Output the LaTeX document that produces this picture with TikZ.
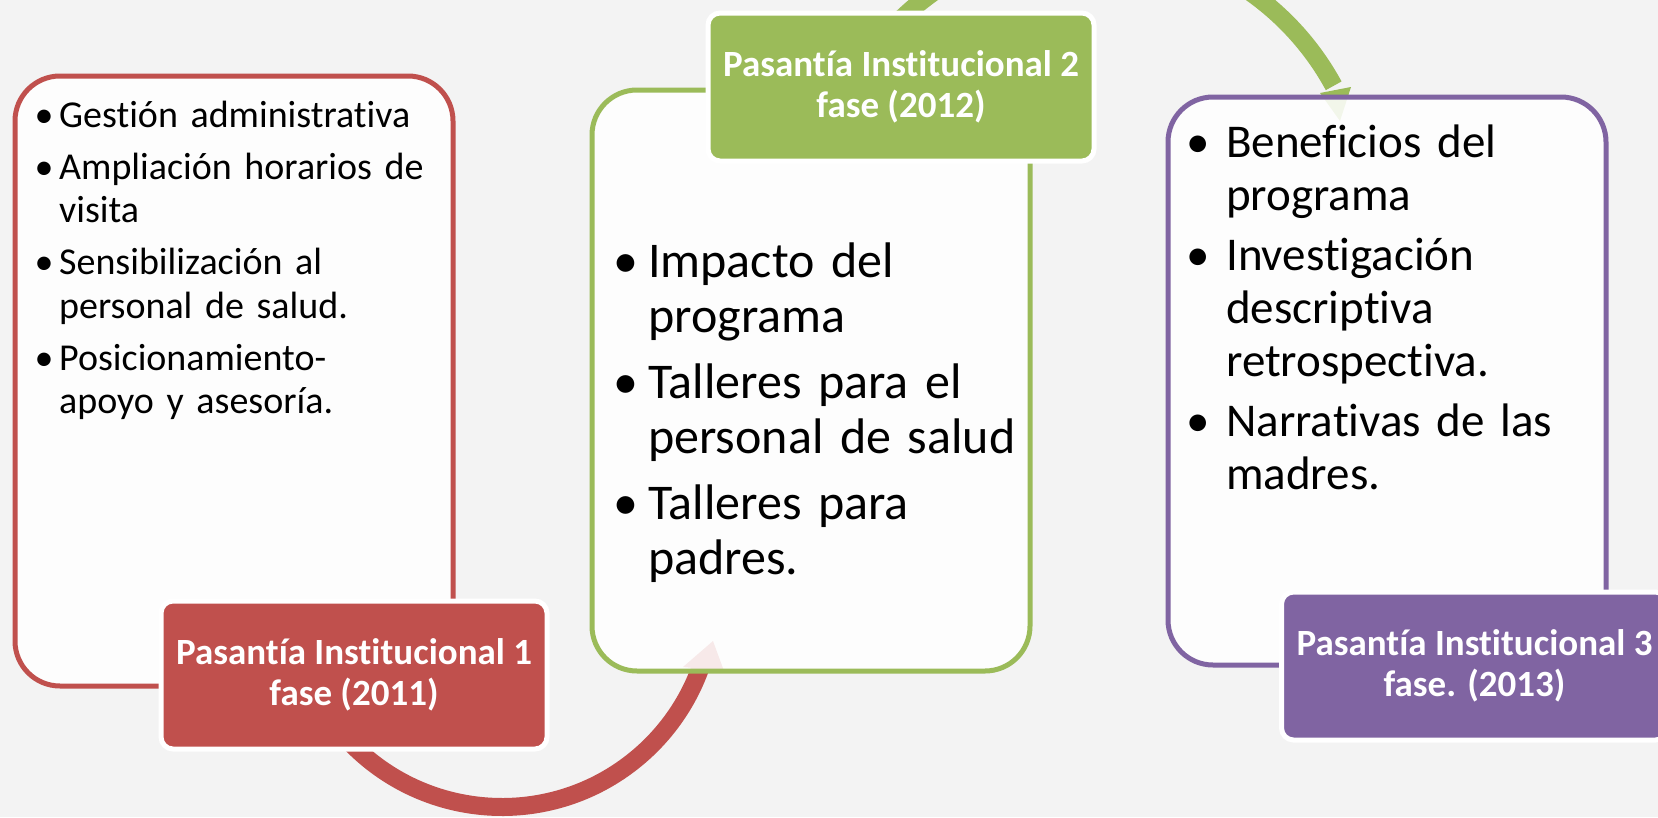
\documentclass[tikz,border=0pt]{standalone}
\usepackage{fontspec}
\setmainfont{Carlito}[Ligatures={NoCommon}]
\definecolor{bg}{RGB}{243,243,243}
\definecolor{pred}{HTML}{C0504D}
\definecolor{pgreen}{HTML}{9BBB59}
\definecolor{ppurple}{HTML}{8064A2}
\tikzset{
  card/.style={draw=#1, line width=5pt, fill=white, fill opacity=0.88, draw opacity=1,
    rounded corners=45pt, inner sep=0pt, rectangle},
  tag/.style={draw=white, line width=5pt, fill=#1, rounded corners=12pt, inner sep=0pt,
    minimum width=386pt, minimum height=148pt, text=white, align=center,
    font=\bfseries\fontsize{37}{40.6}\selectfont},
  band/.style={draw=#1, line width=18pt},
  head/.style={fill=#1},
  bullets/.style={anchor=base west, inner sep=0pt, text width=#1, align=left},
}
\newcommand{\bul}[1]{\noindent\llap{\makebox[#1][c]{\textbullet}}}
\begin{document}
\begin{tikzpicture}[x=1pt,y=-1pt]
\useasboundingbox (0,0) rectangle (1658,817);
\clip (0,0) rectangle (1658,817);
\fill[bg] (0,0) rectangle (1658,817);

% arc centres
\coordinate (rc) at (502,596);
\coordinate (gc) at (1092,217);

% red arrow
\draw[band=pred] (rc) ++(140:211) arc[start angle=140, end angle=19, radius=211];
\fill[head=pred] (683,667) -- (724,671) -- (713,641) -- cycle;
% green arrow
\draw[band=pgreen] (gc) ++(215:275) arc[start angle=215, end angle=331.5, radius=275];
\fill[head=pgreen] (1320,93) -- (1351,87) -- (1340,121) -- cycle;

% cards
\node[card=pred, minimum width=438pt, minimum height=610pt] (redcard) at (234,381) {};
\node[card=pgreen, minimum width=438pt, minimum height=581pt] (greencard) at (811,380.5) {};
\node[card=ppurple, minimum width=438pt, minimum height=568pt] (purplecard) at (1387,381) {};

% tags
\node[tag=pred] (redtag) at (354,675) {Pasantía Institucional 1\\fase (2011)};
\node[tag=pgreen] (greentag) at (901,87) {Pasantía Institucional 2\\fase (2012)};
\node[tag=ppurple] (purpletag) at (1474.5,666) {Pasantía Institucional 3\\fase. (2013)};

% bullet texts
\node[bullets=390pt, font=\fontsize{38}{43.5}\selectfont] (redtext) at (59,127)
 {\setlength{\parskip}{8.5pt}%
  \bul{30pt}Gestión administrativa\par
  \bul{30pt}Ampliación horarios de\\visita\par
  \bul{30pt}Sensibilización al\\personal de salud.\par
  \bul{30pt}Posicionamiento-\\apoyo y asesoría.\par};
\node[bullets=380pt, font=\fontsize{50}{55}\selectfont] (greentext) at (648,277)
 {\setlength{\parskip}{11pt}%
  \bul{44pt}Impacto del\\programa\par
  \bul{44pt}Talleres para el\\personal de salud\par
  \bul{44pt}Talleres para\\padres.\par};
\node[bullets=380pt, font=\fontsize{47}{53}\selectfont] (purpletext) at (1226,157)
 {\setlength{\parskip}{7pt}%
  \bul{56pt}Beneficios del\\programa\par
  \bul{56pt}Investigación\\descriptiva\\retrospectiva.\par
  \bul{56pt}Narrativas de las\\madres.\par};
\end{tikzpicture}
\end{document}
